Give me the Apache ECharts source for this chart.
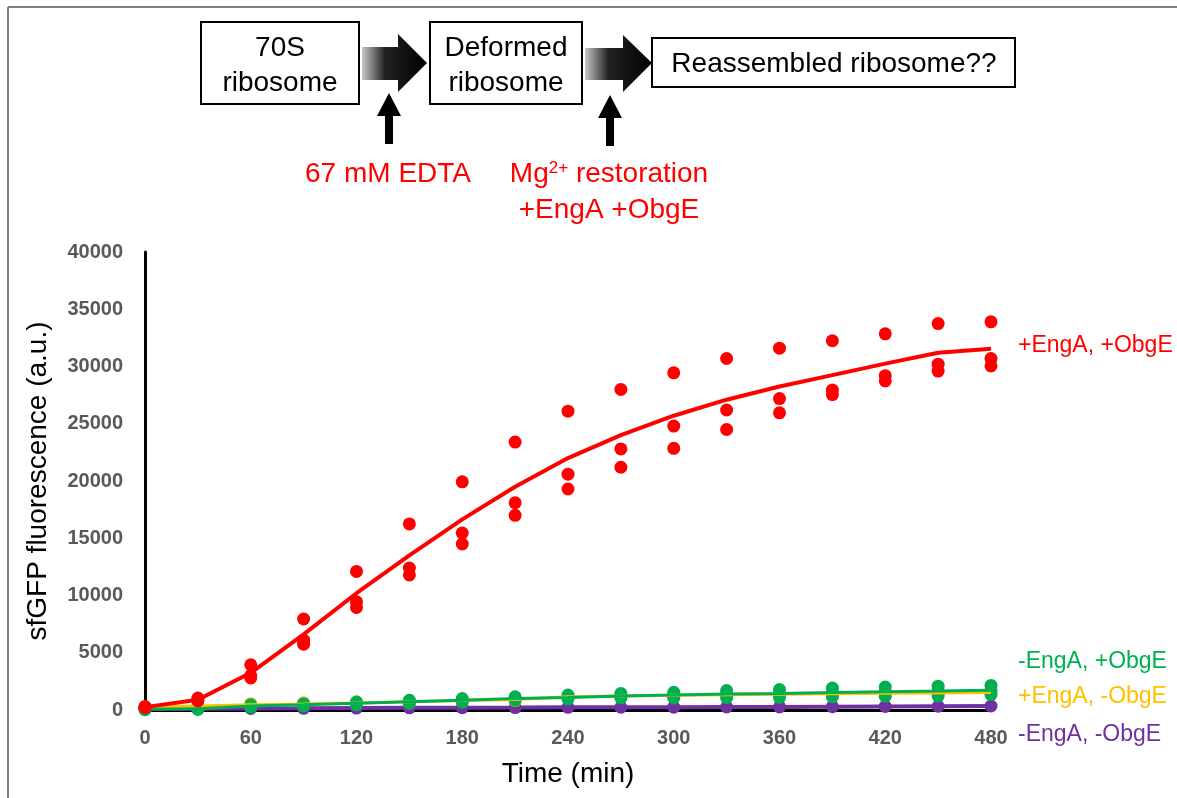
<!DOCTYPE html>
<html>
<head>
<meta charset="utf-8">
<title>sfGFP fluorescence</title>
<script src="https://cdn.jsdelivr.net/npm/echarts@6/dist/echarts.min.js"></script>
<style>
    html, body { margin: 0; padding: 0; background: #fff; }
    #chart { width: 1177px; height: 798px; }
</style>
</head>
<body>
<div id="chart"></div>
<script>
const times = [0, 30, 60, 90, 120, 150, 180, 210, 240, 270, 300, 330, 360, 390, 420, 450, 480];
const xTicks = [0, 60, 120, 180, 240, 300, 360, 420, 480];
const yTicks = [0, 5000, 10000, 15000, 20000, 25000, 30000, 35000, 40000];

// +EngA, +ObgE (three replicates + mean line)
const redRep1 = [300, 1050, 3950, 7950, 12100, 16250, 19930, 23400, 26100, 28000, 29450, 30700, 31600, 32250, 32850, 33750, 33900];
const redRep2 = [250, 900, 3000, 6100, 9450, 12400, 15450, 18100, 20600, 22800, 24800, 26200, 27200, 27950, 29200, 30200, 30700];
const redRep3 = [200, 800, 2800, 5750, 8950, 11800, 14500, 17000, 19300, 21200, 22850, 24500, 25950, 27550, 28750, 29600, 30050];
const redLine = [250, 900, 3250, 6600, 10200, 13500, 16650, 19500, 22000, 24000, 25700, 27100, 28250, 29250, 30250, 31200, 31550];

// -EngA, +ObgE
const greenRep1 = [100, 150, 450, 550, 700, 850, 1000, 1150, 1300, 1450, 1550, 1700, 1780, 1920, 2000, 2080, 2150];
const greenRep2 = [60, 100, 350, 450, 580, 720, 850, 1000, 1100, 1200, 1300, 1400, 1450, 1500, 1600, 1650, 1700];
const greenRep3 = [20, 50, 250, 350, 450, 600, 700, 850, 950, 1050, 1050, 1080, 1100, 1150, 1200, 1220, 1350];
const greenLine = [60, 100, 350, 450, 580, 720, 850, 1000, 1100, 1230, 1300, 1400, 1450, 1520, 1600, 1650, 1730];

// +EngA, -ObgE
const yellowRep1 = [300, 450, 550, 630, 720, 820, 920, 1020, 1250, 1320, 1380, 1430, 1480, 1520, 1560, 1590, 1620];
const yellowRep2 = [200, 250, 350, 430, 520, 620, 720, 820, 1050, 1120, 1180, 1230, 1280, 1320, 1360, 1390, 1420];
const yellowLine = [250, 350, 450, 530, 620, 720, 820, 920, 1150, 1220, 1280, 1330, 1380, 1420, 1460, 1490, 1520];

// -EngA, -ObgE
const purpleRep = [100, 120, 140, 150, 170, 190, 200, 210, 230, 240, 250, 260, 270, 290, 310, 330, 350];
const purpleLine = [100, 120, 140, 150, 170, 190, 200, 210, 230, 240, 250, 260, 270, 290, 310, 330, 350];

const RED = '#ff0000';
const GREEN = '#00b050';
const YELLOW = '#ffc000';
const PURPLE = '#7030a0';
const FONT = "'Liberation Sans', Arial, sans-serif";

const pairs = (vals) => times.map((t, i) => [t, vals[i]]);

const dots = (vals, color, z) => ({
    type: 'scatter',
    data: pairs(vals),
    symbol: 'circle',
    symbolSize: 13,
    itemStyle: { color: color, opacity: 1 },
    z: z,
    silent: true
});

const meanLine = (vals, color, width, z, text, offset) => ({
    type: 'line',
    data: pairs(vals),
    showSymbol: false,
    lineStyle: { color: color, width: width },
    z: z,
    silent: true,
    endLabel: {
        show: true,
        formatter: text,
        color: color,
        fontFamily: FONT,
        fontSize: 23,
        offset: offset,
        distance: 27
    }
});

const arrowFill = new echarts.graphic.LinearGradient(0, 0, 1, 0, [
    { offset: 0, color: '#c8c8c8' },
    { offset: 0.35, color: '#222' },
    { offset: 1, color: '#000' }
]);

const box = (x, y, w, h) => ({
    type: 'rect',
    shape: { x: x, y: y, width: w, height: h },
    style: { fill: '#fff', stroke: '#000', lineWidth: 2 }
});

const label = (x, y, text, color) => ({
    type: 'text',
    x: x,
    y: y,
    style: {
        text: text,
        fill: color || '#000',
        font: '28px ' + FONT,
        align: 'center',
        verticalAlign: 'middle'
    }
});

const poly = (points, fill) => ({
    type: 'polygon',
    shape: { points: points },
    style: { fill: fill }
});

const graphics = [
    // frame edges
    { type: 'line', shape: { x1: 8, y1: 7, x2: 1177, y2: 7 }, style: { stroke: '#7f7f7f', lineWidth: 2 } },
    { type: 'line', shape: { x1: 8, y1: 7, x2: 8, y2: 798 }, style: { stroke: '#7f7f7f', lineWidth: 2 } },
    // scheme
    box(201, 22, 158, 82),
    label(280, 48, '70S'),
    label(280, 83, 'ribosome'),
    poly([[362, 47], [398, 47], [398, 34], [427, 63], [398, 92], [398, 80], [362, 80]], arrowFill),
    box(430, 22, 152, 82),
    label(506, 48, 'Deformed'),
    label(506, 83, 'ribosome'),
    poly([[585, 48], [623, 48], [623, 35], [652, 63], [623, 92], [623, 80], [585, 80]], arrowFill),
    box(652, 38, 363, 49),
    label(834, 64, 'Reassembled ribosome??'),
    poly([[385, 144], [385, 116], [377, 116], [389, 93], [401, 116], [393, 116], [393, 144]], '#000'),
    poly([[606, 146], [606, 118], [598, 118], [610, 95], [622, 118], [614, 118], [614, 146]], '#000'),
    label(388, 174, '67 mM EDTA', RED),
    {
        type: 'text',
        x: 609,
        y: 174,
        style: {
            text: 'Mg{sup|2+} restoration',
            fill: RED,
            font: '28px ' + FONT,
            align: 'center',
            verticalAlign: 'middle',
            rich: {
                sup: { fontSize: 17, fontFamily: FONT, fill: RED, verticalAlign: 'top', padding: [0, 0, 11, 0] }
            }
        }
    },
    label(609, 210, '+EngA +ObgE', RED)
];

const chart = echarts.init(document.getElementById('chart'));
chart.setOption({
    animation: false,
    backgroundColor: '#fff',
    textStyle: { fontFamily: FONT },
    graphic: graphics,
    grid: { left: 145, right: 186, top: 252, bottom: 88 },
    xAxis: {
        type: 'value',
        min: xTicks[0],
        max: xTicks[xTicks.length - 1],
        interval: xTicks[1] - xTicks[0],
        name: 'Time (min)',
        nameLocation: 'middle',
        nameGap: 50,
        nameTextStyle: { fontSize: 28, color: '#000', fontFamily: FONT },
        axisLine: { onZero: false, lineStyle: { color: '#000', width: 3 } },
        axisTick: { show: false },
        splitLine: { show: false },
        axisLabel: { color: '#595959', fontWeight: 'bold', fontSize: 20, margin: 18, fontFamily: FONT }
    },
    yAxis: {
        type: 'value',
        min: yTicks[0],
        max: yTicks[yTicks.length - 1],
        interval: yTicks[1] - yTicks[0],
        name: 'sfGFP fluorescence (a.u.)',
        nameLocation: 'middle',
        nameGap: 93,
        nameTextStyle: { fontSize: 28, color: '#000', fontFamily: FONT },
        axisLine: { show: true, lineStyle: { color: '#000', width: 3 } },
        axisTick: { show: false },
        splitLine: { show: false },
        axisLabel: {
            color: '#595959', fontWeight: 'bold', fontSize: 20, margin: 22, fontFamily: FONT,
            formatter: (v) => String(v)
        }
    },
    series: [
        meanLine(purpleLine, PURPLE, 4, 2, '-EngA, -ObgE', [0, 29]),
        dots(purpleRep, PURPLE, 3),
        dots(yellowRep1, YELLOW, 4),
        dots(yellowRep2, YELLOW, 4),
        dots(greenRep1, GREEN, 5),
        dots(greenRep2, GREEN, 5),
        dots(greenRep3, GREEN, 5),
        meanLine(yellowLine, YELLOW, 3, 6, '+EngA, -ObgE', [0, 4]),
        meanLine(greenLine, GREEN, 3, 6, '-EngA, +ObgE', [0, -29]),
        dots(redRep1, RED, 7),
        dots(redRep2, RED, 7),
        dots(redRep3, RED, 7),
        meanLine(redLine, RED, 4, 8, '+EngA, +ObgE', [0, -3])
    ]
});
</script>
</body>
</html>
